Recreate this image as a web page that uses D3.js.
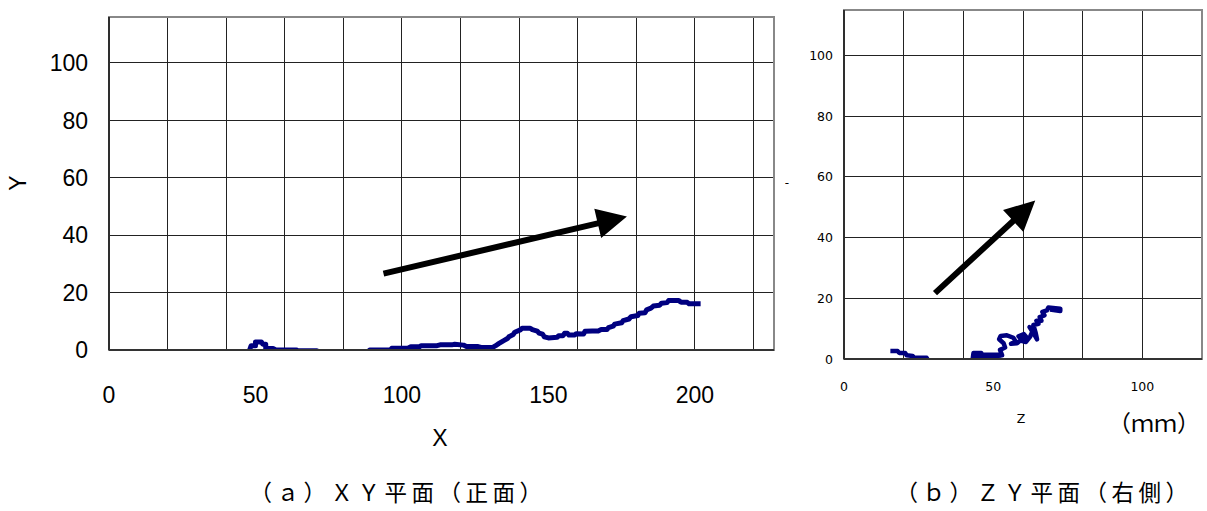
<!DOCTYPE html>
<html>
<head>
<meta charset="utf-8">
<script src="https://cdn.jsdelivr.net/npm/d3@7"></script>
<style>
  html, body { margin: 0; padding: 0; background: #fff; }
  svg { display: block; }
</style>
</head>
<body>
<svg id="chart" width="1207" height="511"></svg>
<script>
// XY plane (front view) trajectory, mm
const xyX = [48, 48.5, 50, 50, 52, 52.5, 53.5, 53.5, 56, 57, 64, 64.5, 71, 72, 88, 89, 96, 96.5, 102, 103, 106, 106.5,
  112, 113, 117, 118, 121, 122, 126, 127, 131, 132, 133, 134.6, 136, 136.5, 138, 138.5, 140.4, 141, 143.8, 144.5,
  146.2, 146.8, 148, 148.6, 150, 153, 153.5, 155, 155.5, 156.5, 157, 159, 159.5, 162, 162.5, 165, 167, 168, 170,
  170.5, 172.1, 172.6, 175, 175.5, 177.5, 178.2, 180.5, 181, 183, 183.5, 185, 185.8, 188, 188.6, 190.5, 191,
  194.5, 195.3, 197.4, 198, 201.1];
const xyY = [0, 1.5, 1.5, 2.8, 2.8, 2, 2, 0.5, 0.5, 0, 0, -0.3, -0.3, -1, -1, 0, 0, 0.6, 0.6, 1.1, 1.1, 1.5,
  1.5, 1.8, 1.8, 2.0, 1.7, 1.2, 1.2, 0.9, 0.9, 1.5, 2.2, 3.2, 4.0, 4.6, 5.4, 6.2, 7.0, 7.6, 7.6, 7.1,
  6.6, 5.9, 5.5, 4.6, 4.2, 4.4, 5.0, 5.0, 5.8, 5.8, 5.2, 5.2, 5.7, 5.6, 6.5, 6.6, 6.6, 7.1, 7.1,
  7.8, 8.3, 9.0, 9.5, 10.2, 10.8, 11.6, 12.0, 12.8, 13.0, 14.0, 14.6, 15.3, 15.6, 16.3, 16.5, 17.2,
  17.2, 16.6, 16.6, 16.1, 16.1];

// ZY plane (right side view) trajectory, mm
const zyZ = [16.3, 18, 18.5, 20.5, 21, 23, 23.5, 27.7, 28.5, 43, 43.4, 46, 46.5, 44.5, 44.5, 52, 52, 47, 47, 53,
  52.3, 54, 53.5, 52.0, 52.5, 54.6, 56.8, 57.5, 56, 58, 59.6, 58.5, 60.3, 61.3, 59.5, 61, 62.4, 63.5, 62.2,
  63.8, 64.7, 64.2, 63.5, 65.2, 64.5, 66.2, 65.6, 67.2, 66.5, 68, 68.5, 72.5, 72.5, 69.8];
const zyY = [2.6, 2.6, 2.0, 2.0, 1.2, 1.0, 0.4, 0.4, -1, -1, 2.0, 2.0, 1.2, 1.0, 0.4, 0.4, 1.4, 1.4, 0.8, 1.2,
  3.0, 3.8, 5.2, 6.5, 7.6, 7.8, 7.0, 5.8, 5.0, 5.2, 6.5, 7.5, 8.2, 7.0, 6.0, 5.6, 7.4, 9.8, 10.5,
  8.0, 6.5, 8.8, 11.2, 11.6, 12.6, 12.6, 13.8, 14.4, 15.5, 16.0, 17.0, 16.6, 15.8, 16.2];

// direction-of-motion arrows, in data units [tailX, tailY, tipX, tipY]
const xyArrow = [93.7, 26.6, 176.8, 46.5];
const zyArrow = [30.5, 21.7, 64.1, 52.2];

// axis ticks and grid
const xyXTicks = [0, 50, 100, 150, 200];
const xyXGrid = [20, 40, 60, 80, 100, 120, 140, 160, 180, 200, 220];
const yTicks = [0, 20, 40, 60, 80, 100];
const yGrid = [20, 40, 60, 80, 100];
const zyXTicks = [0, 50, 100];
const zyXGrid = [20, 40, 60, 80, 100];

const captionA = "（ａ）ＸＹ平面（正面）";
const captionB = "（ｂ）ＺＹ平面（右側）";
const unitLabel = "（ｍｍ）";

const svg = d3.select("#chart");
const LINE = "#000080";

function panel(cfg) {
  const x = d3.scaleLinear().domain(cfg.xDomain).range(cfg.xRange);
  const y = d3.scaleLinear().domain(cfg.yDomain).range(cfg.yRange);
  const g = svg.append("g");
  const [x0, x1] = cfg.xRange, [y0, y1] = cfg.yRange;

  g.append("clipPath").attr("id", cfg.id + "-clip")
    .append("rect").attr("x", x0).attr("y", y1).attr("width", x1 - x0).attr("height", y0 - y1);

  // grid
  g.selectAll(".vg").data(cfg.xGrid).join("line")
    .attr("x1", d => x(d)).attr("x2", d => x(d)).attr("y1", y1).attr("y2", y0)
    .attr("stroke", "#222").attr("stroke-width", 1).attr("shape-rendering", "crispEdges");
  g.selectAll(".hg").data(cfg.yGrid).join("line")
    .attr("x1", x0).attr("x2", x1).attr("y1", d => y(d)).attr("y2", d => y(d))
    .attr("stroke", "#222").attr("stroke-width", 1).attr("shape-rendering", "crispEdges");

  // plot frame
  g.append("rect").attr("x", x0).attr("y", y1).attr("width", x1 - x0).attr("height", y0 - y1)
    .attr("fill", "none").attr("stroke", "#888").attr("stroke-width", 2);
  // axis lines
  g.append("line").attr("x1", x0).attr("x2", x0).attr("y1", y1).attr("y2", y0)
    .attr("stroke", "#111").attr("stroke-width", 1.5);

  // trace
  const line = d3.line().x(d => x(d[0])).y(d => y(d[1]));
  g.append("path").datum(cfg.xs.map((v, i) => [v, cfg.ys[i]]))
    .attr("clip-path", `url(#${cfg.id}-clip)`)
    .attr("d", line).attr("fill", "none").attr("stroke", LINE)
    .attr("stroke-width", cfg.lw).attr("stroke-linejoin", "round").attr("stroke-linecap", "square");

  g.append("line").attr("x1", x0).attr("x2", x1).attr("y1", y0).attr("y2", y0)
    .attr("stroke", "#333").attr("stroke-width", 2);

  // arrow
  const a = cfg.arrow;
  const tx = x(a[0]), ty = y(a[1]), hx = x(a[2]), hy = y(a[3]);
  const ang = Math.atan2(hy - ty, hx - tx);
  const len = Math.hypot(hx - tx, hy - ty);
  const sw = 3, hl = 30, hw = 15;
  const pts = [[0, -sw], [len - hl, -sw], [len - hl, -hw], [len, 0], [len - hl, hw], [len - hl, sw], [0, sw]];
  g.append("polygon")
    .attr("points", pts.map(p => p.join(",")).join(" "))
    .attr("transform", `translate(${tx},${ty}) rotate(${ang * 180 / Math.PI})`)
    .attr("fill", "#000");

  // tick labels
  g.selectAll(".xt").data(cfg.xTicks).join("text")
    .attr("x", d => x(d)).attr("y", cfg.xLabelY)
    .attr("text-anchor", "middle").attr("font-family", cfg.font).attr("font-size", cfg.fs)
    .text(d => d);
  g.selectAll(".yt").data(cfg.yTicks).join("text")
    .attr("x", cfg.yLabelX).attr("y", d => y(d)).attr("dy", "0.36em")
    .attr("text-anchor", "end").attr("font-family", cfg.font).attr("font-size", cfg.fs)
    .text(d => d);
  return { x, y, g };
}

const fontA = "'Liberation Sans', Arial, sans-serif";
const fontB = "'DejaVu Sans', Verdana, sans-serif";

panel({
  id: "xy", xDomain: [0, 227], xRange: [109, 774], yDomain: [0, 116], yRange: [350, 17],
  xGrid: xyXGrid, yGrid: yGrid, xTicks: xyXTicks, yTicks: yTicks,
  xs: xyX, ys: xyY, arrow: xyArrow, font: fontA, fs: 23, xLabelY: 403, yLabelX: 88, lw: 5
});

panel({
  id: "zy", xDomain: [0, 120], xRange: [844, 1202], yDomain: [0, 115], yRange: [359, 10],
  xGrid: zyXGrid, yGrid: yGrid, xTicks: zyXTicks, yTicks: yTicks,
  xs: zyZ, ys: zyY, arrow: zyArrow, font: fontB, fs: 12.5, xLabelY: 391, yLabelX: 833, lw: 4.5
});

// axis titles
svg.append("text").attr("x", 440).attr("y", 446).attr("text-anchor", "middle")
  .attr("font-family", fontA).attr("font-size", 23).text("X");
svg.append("text").attr("transform", "translate(26,183) rotate(-90)").attr("text-anchor", "middle")
  .attr("font-family", fontA).attr("font-size", 23).text("Y");
svg.append("text").attr("x", 1021).attr("y", 423).attr("text-anchor", "middle")
  .attr("font-family", fontB).attr("font-size", 12.5).text("Z");
svg.append("text").attr("x", 787).attr("y", 187).attr("text-anchor", "middle")
  .attr("font-family", fontB).attr("font-size", 12).text("-");

// unit and captions
const cjk = "'Noto Sans CJK JP', 'Noto Sans CJK SC', sans-serif";
svg.append("text").attr("x", 1154).attr("y", 432).attr("text-anchor", "middle")
  .attr("font-family", cjk).attr("font-size", 23).text(unitLabel);
svg.append("text").attr("x", 398).attr("y", 501).attr("text-anchor", "middle")
  .attr("font-family", cjk).attr("font-size", 22.5).attr("letter-spacing", 4.5).text(captionA);
svg.append("text").attr("x", 1044).attr("y", 501).attr("text-anchor", "middle")
  .attr("font-family", cjk).attr("font-size", 22.5).attr("letter-spacing", 4.5).text(captionB);
</script>
</body>
</html>
